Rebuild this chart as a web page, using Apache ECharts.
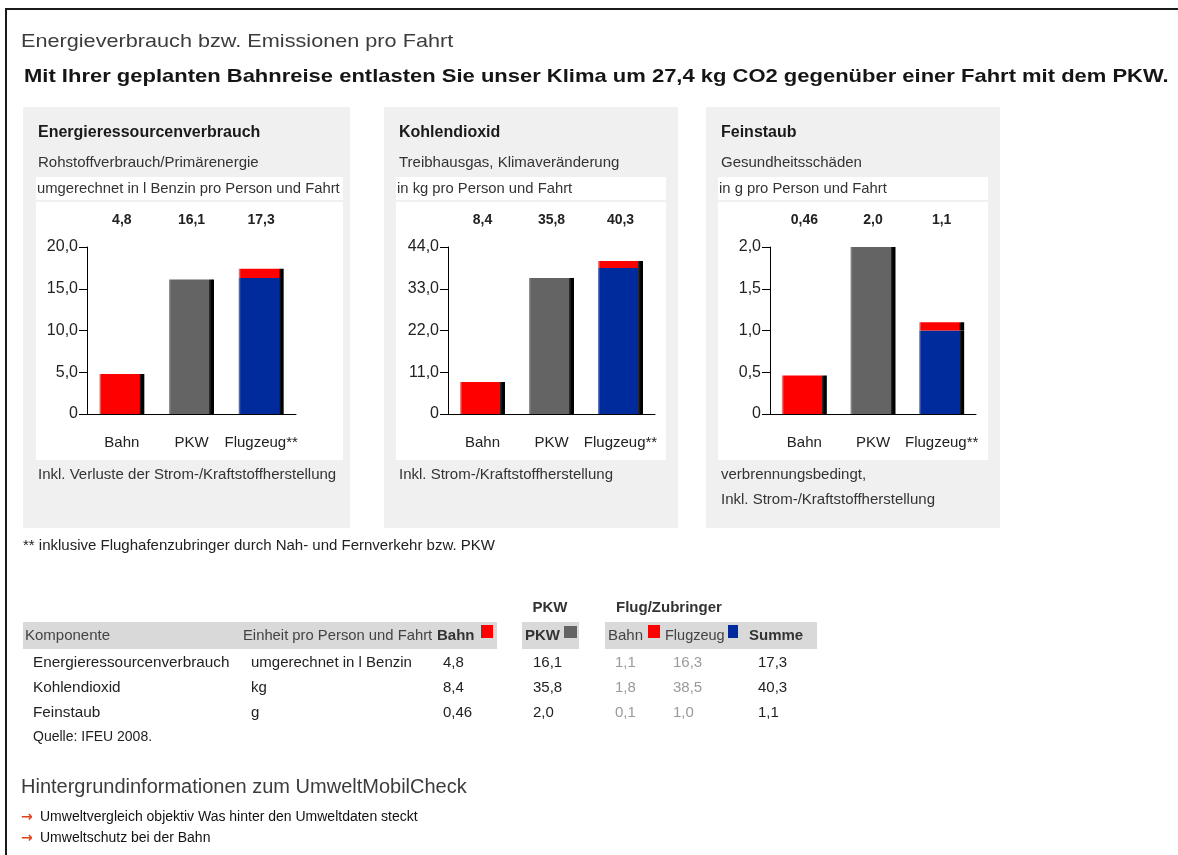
<!DOCTYPE html>
<html>
<head>
<meta charset="utf-8">
<script src="https://cdn.jsdelivr.net/npm/echarts@6/dist/echarts.min.js"></script>
<style>
  html, body { margin: 0; padding: 0; background: #fff; }
  #chart { width: 1178px; height: 855px; }
</style>
</head>
<body>
<div id="chart"></div>
<script>
// Kategorien und Werte (pro Person und Fahrt)
const categories = ['Bahn', 'PKW', 'Flugzeug**'];
const panelTitles = ['Energieressourcenverbrauch', 'Kohlendioxid', 'Feinstaub'];
const panelSubtitles = ['Rohstoffverbrauch/Primärenergie', 'Treibhausgas, Klimaveränderung', 'Gesundheitsschäden'];
const panelUnits = ['umgerechnet in l Benzin pro Person und Fahrt', 'in kg pro Person und Fahrt', 'in g pro Person und Fahrt'];
const panelNotes = [
  ['Inkl. Verluste der Strom-/Kraftstoffherstellung'],
  ['Inkl. Strom-/Kraftstoffherstellung'],
  ['verbrennungsbedingt,', 'Inkl. Strom-/Kraftstoffherstellung']
];
const tableUnits = ['umgerechnet in l Benzin', 'kg', 'g'];

const bahnValues = [4.8, 8.4, 0.46];
const pkwValues = [16.1, 35.8, 2.0];
const flugZubringerBahn = [1.1, 1.8, 0.1];
const flugzeugValues = [16.3, 38.5, 1.0];
const flugSumme = [17.3, 40.3, 1.1];

const yMax = [20, 44, 2];
const yInterval = [5, 11, 0.5];

// Layout der drei Diagrammkästen
const panels = [
  { x: 23, w: 327, box: 36, boxW: 307, grid: { left: 87, width: 209 } },
  { x: 384, w: 294, box: 396, boxW: 270, grid: { left: 448, width: 207 } },
  { x: 706, w: 294, box: 718, boxW: 270, grid: { left: 770, width: 206 } }
];

const RED = '#ff0000', GRAY = '#646464', BLUE = '#002b9c';
const FONT = '"Liberation Sans", Arial, sans-serif';

function fmt(v) {
  const s = (Math.round(v * 100) % 10 !== 0) ? v.toFixed(2) : v.toFixed(1);
  return s.replace('.', ',');
}

// Säulenfüllung mit hellem linken Rand und dunkler Seitenfläche rechts
function barFill(main, edge) {
  return {
    type: 'linear', x: 0, y: 0, x2: 1, y2: 0,
    colorStops: [
      { offset: 0, color: edge },
      { offset: 0.05, color: main },
      { offset: 0.89, color: main },
      { offset: 0.9, color: '#2a2a2a' },
      { offset: 0.95, color: '#000' },
      { offset: 1, color: '#000' }
    ]
  };
}

function txt(x, y, text, size, opts) {
  opts = opts || {};
  const el = {
    type: 'text', silent: true,
    style: {
      x: x, y: y, text: text,
      font: (opts.weight || 'normal') + ' ' + size + 'px ' + (opts.family || FONT),
      fill: opts.color || '#222',
      textAlign: opts.align || 'left',
      textVerticalAlign: 'middle'
    }
  };
  if (opts.scaleX) {
    el.scaleX = opts.scaleX;
    el.originX = x;
    el.originY = y;
  }
  return el;
}
function rect(x, y, w, h, color) {
  return { type: 'rect', silent: true, shape: { x: x, y: y, width: w, height: h }, style: { fill: color } };
}

const graphics = [];
// Rahmen
graphics.push(rect(5, 8, 1173, 2, '#1a1a1a'));
graphics.push(rect(5, 8, 2, 847, '#1a1a1a'));

graphics.push(txt(21, 42, 'Energieverbrauch bzw. Emissionen pro Fahrt', 19, { color: '#3c3c3c', scaleX: 1.14 }));
graphics.push(txt(24, 77, 'Mit Ihrer geplanten Bahnreise entlasten Sie unser Klima um 27,4 kg CO2 gegenüber einer Fahrt mit dem PKW.', 19, { weight: 'bold', color: '#151515', scaleX: 1.157 }));

panels.forEach(function (p, i) {
  graphics.push(rect(p.x, 107, p.w, 421, '#f0f0f0'));
  graphics.push(rect(p.box, 177, p.boxW, 23, '#ffffff'));
  graphics.push(rect(p.box, 202, p.boxW, 258, '#ffffff'));
  graphics.push(txt(p.x + 15, 133, panelTitles[i], 16, { weight: 'bold', color: '#1a1a1a' }));
  graphics.push(txt(p.x + 15, 163, panelSubtitles[i], 15, { color: '#333' }));
  graphics.push(txt(p.box + 1, 189, panelUnits[i], 14.8, { color: '#333' }));
  panelNotes[i].forEach(function (line, k) {
    graphics.push(txt(p.x + 15, 475 + 25 * k, line, 15, { color: '#333' }));
  });
});

graphics.push(txt(23, 546, '** inklusive Flughafenzubringer durch Nah- und Fernverkehr bzw. PKW', 15, { color: '#222' }));

// Tabelle
graphics.push(txt(550, 608, 'PKW', 15, { weight: 'bold', align: 'center', color: '#333' }));
graphics.push(txt(616, 608, 'Flug/Zubringer', 15, { weight: 'bold', color: '#333' }));
graphics.push(rect(23, 622, 474, 27, '#d9d9d9'));
graphics.push(rect(522, 622, 57, 27, '#d9d9d9'));
graphics.push(rect(605, 622, 212, 27, '#d9d9d9'));
graphics.push(txt(25, 636, 'Komponente', 15, { color: '#444' }));
graphics.push(txt(243, 636, 'Einheit pro Person und Fahrt', 14.8, { color: '#444' }));
graphics.push(txt(437, 636, 'Bahn', 15, { weight: 'bold', color: '#333' }));
graphics.push(rect(481, 625, 12, 13, RED));
graphics.push(txt(525, 636, 'PKW', 15, { weight: 'bold', color: '#333' }));
graphics.push(rect(564, 626, 13, 12, GRAY));
graphics.push(txt(608, 636, 'Bahn', 15, { color: '#444' }));
graphics.push(rect(648, 625, 12, 13, RED));
graphics.push(txt(665, 636, 'Flugzeug', 14.5, { color: '#444' }));
graphics.push(rect(728, 625, 10, 13, BLUE));
graphics.push(txt(749, 636, 'Summe', 15, { weight: 'bold', color: '#333' }));

const rowY = [663, 688, 713];
rowY.forEach(function (y, r) {
  graphics.push(txt(33, y, panelTitles[r], 15.3, { color: '#222' }));
  graphics.push(txt(251, y, tableUnits[r], 15, { color: '#222' }));
  graphics.push(txt(443, y, fmt(bahnValues[r]), 15, { color: '#222' }));
  graphics.push(txt(533, y, fmt(pkwValues[r]), 15, { color: '#222' }));
  graphics.push(txt(615, y, fmt(flugZubringerBahn[r]), 15, { color: '#9a9a9a' }));
  graphics.push(txt(673, y, fmt(flugzeugValues[r]), 15, { color: '#9a9a9a' }));
  graphics.push(txt(758, y, fmt(flugSumme[r]), 15, { color: '#222' }));
});
graphics.push(txt(33, 737, 'Quelle: IFEU 2008.', 14, { color: '#222' }));

graphics.push(txt(21, 787, 'Hintergrundinformationen zum UmweltMobilCheck', 20, { color: '#3c3c3c' }));
const links = ['Umweltvergleich objektiv Was hinter den Umweltdaten steckt', 'Umweltschutz bei der Bahn'];
links.forEach(function (l, k) {
  const y = 817 + 21 * k;
  graphics.push(txt(21, y, '→', 14, { color: '#e2401c', family: '"DejaVu Sans", sans-serif', weight: 'bold' }));
  graphics.push(txt(40, y, l, 14, { color: '#111' }));
});

// Achsen und Säulen
const grids = [], xAxes = [], yAxes = [], series = [];
panels.forEach(function (p, i) {
  grids.push({ left: p.grid.left, width: p.grid.width, top: 247, height: 167 });
  xAxes.push({
    type: 'category', gridIndex: i, position: 'bottom', data: categories,
    axisLine: { lineStyle: { color: '#000', width: 1 } },
    axisTick: { show: false },
    axisLabel: { color: '#222', fontSize: 15, fontFamily: FONT, margin: 21, interval: 0 }
  });
  xAxes.push({
    type: 'category', gridIndex: i, position: 'top',
    data: [fmt(bahnValues[i]), fmt(pkwValues[i]), fmt(flugSumme[i])],
    axisLine: { show: false }, axisTick: { show: false },
    axisLabel: { color: '#222', fontSize: 14, fontWeight: 'bold', fontFamily: FONT, margin: 20, interval: 0 }
  });
  yAxes.push({
    type: 'value', gridIndex: i, min: 0, max: yMax[i], interval: yInterval[i],
    axisLine: { show: true, lineStyle: { color: '#000', width: 1 } },
    axisTick: { show: true, length: 8, lineStyle: { color: '#000' } },
    splitLine: { show: false },
    axisLabel: {
      color: '#222', fontSize: 16, fontFamily: FONT, margin: 9,
      formatter: function (v) { return v === 0 ? '0' : v.toFixed(1).replace('.', ','); }
    }
  });
  series.push({
    type: 'bar', xAxisIndex: 2 * i, yAxisIndex: i, stack: 'fahrt' + i, barWidth: 45,
    data: [
      { value: bahnValues[i], itemStyle: { color: barFill(RED, '#ff9a9a') } },
      { value: pkwValues[i], itemStyle: { color: barFill(GRAY, '#9a9a9a') } },
      { value: flugzeugValues[i], itemStyle: { color: barFill(BLUE, '#6f86d8') } }
    ]
  });
  series.push({
    type: 'bar', xAxisIndex: 2 * i, yAxisIndex: i, stack: 'fahrt' + i, barWidth: 45,
    data: ['-', '-', flugZubringerBahn[i]],
    itemStyle: { color: barFill(RED, '#ff9a9a') }
  });
});

const chart = echarts.init(document.getElementById('chart'), null, { renderer: 'canvas' });
chart.setOption({
  animation: false,
  backgroundColor: '#ffffff',
  graphic: { elements: graphics },
  grid: grids,
  xAxis: xAxes,
  yAxis: yAxes,
  series: series
});
</script>
</body>
</html>
